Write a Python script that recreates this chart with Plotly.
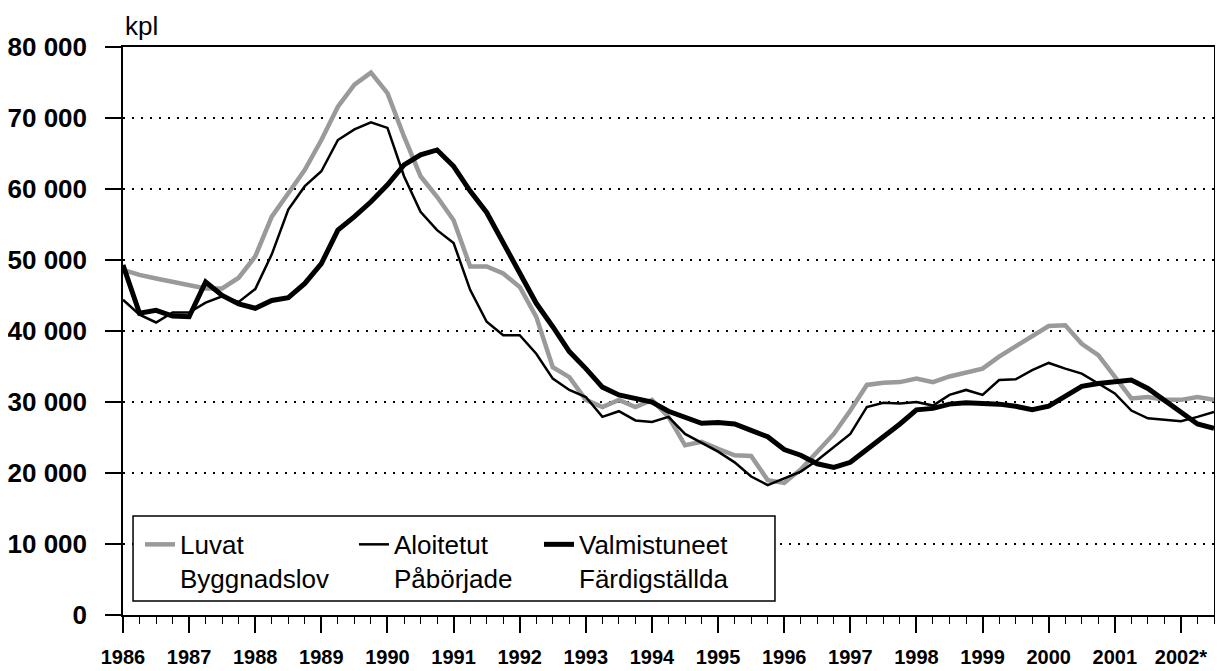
import plotly.graph_objects as go

# Quarterly points, 1986 Q1 .. 2002 Q3 (x in decimal years)
start_year = 1986
n_points = 67
x_years = [start_year + i * 0.25 for i in range(n_points)]

luvat = [48600, 47900, 47400, 46900, 46400, 46000, 46000, 47500, 50500, 56100,
         59400, 62700, 66900, 71600, 74700, 76400, 73500, 67400, 61800, 58900,
         55600, 49100, 49100, 48100, 46200, 42000, 34900, 33500, 30300, 29300,
         30300, 29300, 30300, 27900, 23900, 24400, 23400, 22500, 22400, 19000,
         18600, 20500, 23000, 25500, 28800, 32400, 32700, 32800, 33300, 32800,
         33600, 34100, 34700, 36400, 37800, 39200, 40700, 40800, 38200, 36600,
         33500, 30500, 30700, 30300, 30300, 30700, 30300]

aloitetut = [44400, 42300, 41200, 42600, 42600, 44000, 44900, 44100, 45900, 50800,
             57100, 60400, 62500, 66900, 68400, 69400, 68600, 61800, 56800, 54200,
             52400, 45800, 41300, 39400, 39400, 36800, 33300, 31700, 30700, 27900,
             28700, 27400, 27200, 27900, 25500, 24300, 23000, 21500, 19500, 18300,
             19300, 20200, 21800, 23700, 25500, 29300, 29900, 29800, 30000, 29500,
             31000, 31700, 31000, 33100, 33200, 34500, 35500, 34700, 34000, 32600,
             31200, 28800, 27700, 27500, 27300, 27900, 28600]

valmistuneet = [49300, 42500, 42900, 42100, 42000, 46900, 45000, 43800, 43200, 44300,
                44700, 46700, 49500, 54200, 56100, 58200, 60600, 63400, 64800, 65500,
                63200, 59700, 56700, 52400, 48400, 43900, 40600, 37100, 34700, 32100,
                31000, 30500, 30000, 28700, 27900, 27000, 27100, 26900, 26000, 25100,
                23300, 22500, 21300, 20800, 21500, 23400, 25100, 26900, 28900, 29100,
                29700, 29900, 29800, 29700, 29400, 28900, 29400, 30700, 32200, 32600,
                32900, 33100, 31900, 30300, 28600, 26900, 26300]

series_names = ["Luvat<br>Byggnadslov", "Aloitetut<br>Påbörjade", "Valmistuneet<br>Färdigställda"]

year_ticks = list(range(1986, 2003))
year_labels = [str(y) for y in range(1986, 2002)] + ["2002*"]

y_ticks = [0, 10000, 20000, 30000, 40000, 50000, 60000, 70000, 80000]
y_labels = ["0", "10 000", "20 000", "30 000", "40 000", "50 000", "60 000", "70 000", "80 000"]

FONT = "Liberation Sans, Arial, sans-serif"

fig = go.Figure()
fig.add_trace(go.Scatter(x=x_years, y=luvat, mode="lines", name=series_names[0],
                         line=dict(color="#9a9a9a", width=4.5), legend="legend"))
fig.add_trace(go.Scatter(x=x_years, y=aloitetut, mode="lines", name=series_names[1],
                         line=dict(color="black", width=2.5), legend="legend2"))
fig.add_trace(go.Scatter(x=x_years, y=valmistuneet, mode="lines", name=series_names[2],
                         line=dict(color="black", width=5), legend="legend3"))

leg_common = dict(xanchor="left", yanchor="top", y=0.1656, bgcolor="rgba(0,0,0,0)",
                  borderwidth=0, valign="top", itemwidth=30,
                  font=dict(family=FONT, size=26, color="black"))

# page body has an 8px margin, so the figure is sized to fill the 1223x671 window
fig.update_layout(
    width=1215, height=663,
    margin=dict(l=115, r=9, t=39, b=56, autoexpand=False),
    paper_bgcolor="white", plot_bgcolor="white",
    font=dict(family=FONT, color="black", size=26),
    showlegend=True,
    legend=dict(x=0.0156, **leg_common),
    legend2=dict(x=0.2117, **leg_common),
    legend3=dict(x=0.3813, **leg_common),
    shapes=[dict(type="rect", xref="paper", yref="paper", x0=0.0092, x1=0.5976,
                 y0=0.0247, y1=0.1744, fillcolor="white",
                 line=dict(color="black", width=1.5), layer="above")],
    annotations=[dict(text="kpl", xref="paper", yref="paper", x=0.0, y=1.0,
                      xanchor="left", yanchor="bottom", yshift=4, showarrow=False,
                      font=dict(family=FONT, size=26, color="black"))],
)

fig.update_xaxes(
    range=[1986, 2002.5], tickmode="array", tickvals=year_ticks, ticktext=year_labels,
    ticks="outside", ticklen=16, tickwidth=1.5, tickcolor="black", tickangle=0,
    tickfont=dict(family=FONT, size=20, color="black", weight="bold"),
    ticklabelstandoff=7, automargin=False,
    showline=True, linecolor="black", linewidth=1.5, mirror=True,
    showgrid=False, zeroline=False,
    minor=dict(dtick=0.25, tick0=1986, ticks="outside", ticklen=7, tickwidth=1,
               tickcolor="black", showgrid=False),
)

fig.update_yaxes(
    range=[0, 80000], tickmode="array", tickvals=y_ticks, ticktext=y_labels,
    ticks="outside", ticklen=16, tickwidth=1.5, tickcolor="black",
    tickfont=dict(family=FONT, size=26, color="black", weight="bold"),
    ticklabelstandoff=13, automargin=False,
    showline=True, linecolor="black", linewidth=1.5, mirror=True,
    showgrid=True, gridcolor="black", gridwidth=2, griddash="2px,7px",
    zeroline=False,
)

fig.write_html("out.html")
